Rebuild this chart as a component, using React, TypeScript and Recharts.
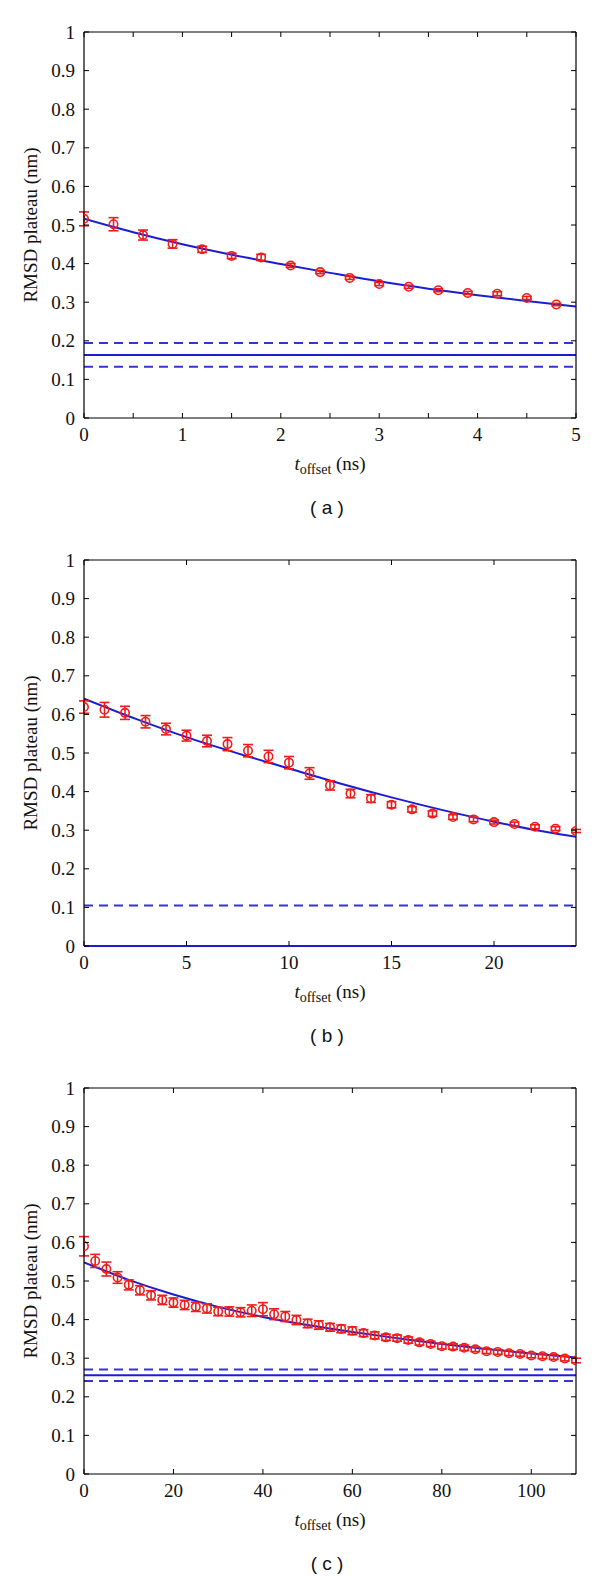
import React from 'react';
import { ComposedChart, Scatter, Line, XAxis, YAxis, ErrorBar, ReferenceLine } from 'recharts';

const RED = '#f01c1c';
const BLUE = '#1c1cd2';
const DASHBLUE = '#3434d4';
const SERIF = '"Liberation Serif", "Times New Roman", serif';
const SANS = '"Liberation Sans", Arial, sans-serif';

const yTicks = [0, 0.1, 0.2, 0.3, 0.4, 0.5, 0.6, 0.7, 0.8, 0.9, 1];

// Panel (a)
const xTicksA = [0, 0.5, 1, 1.5, 2, 2.5, 3, 3.5, 4, 4.5, 5];
const xA = [0, 0.3, 0.6, 0.9, 1.2, 1.5, 1.8, 2.1, 2.4, 2.7, 3.0, 3.3, 3.6, 3.9, 4.2, 4.5, 4.8];
const yA = [0.516, 0.502, 0.474, 0.451, 0.437, 0.42, 0.416, 0.395, 0.378, 0.363, 0.347, 0.34, 0.331, 0.324, 0.322, 0.311, 0.294];
const eA = [0.018, 0.017, 0.013, 0.011, 0.008, 0.007, 0.008, 0.005, 0.004, 0.004, 0.004, 0.004, 0.004, 0.004, 0.005, 0.004, 0.003];
const fitXA = [0, 0.5, 1, 1.5, 2, 2.5, 3, 3.5, 4, 4.5, 5];
const fitYA = [0.516, 0.481, 0.45, 0.423, 0.399, 0.376, 0.354, 0.335, 0.318, 0.303, 0.289];
const plateauA = [0.163];
const boundsA = [0.133, 0.194];

// Panel (b)
const xTicksB = [0, 5, 10, 15, 20];
const xB = [0, 1, 2, 3, 4, 5, 6, 7, 8, 9, 10, 11, 12, 13, 14, 15, 16, 17, 18, 19, 20, 21, 22, 23, 24];
const yB = [0.619, 0.612, 0.604, 0.581, 0.562, 0.545, 0.531, 0.523, 0.506, 0.491, 0.475, 0.447, 0.416, 0.395, 0.382, 0.366, 0.354, 0.343, 0.334, 0.328, 0.321, 0.316, 0.309, 0.304, 0.298];
const eB = [0.016, 0.019, 0.017, 0.016, 0.015, 0.014, 0.015, 0.017, 0.016, 0.016, 0.016, 0.015, 0.012, 0.011, 0.01, 0.008, 0.007, 0.007, 0.006, 0.006, 0.005, 0.005, 0.005, 0.005, 0.004];
const fitXB = [0, 2.5, 5, 7.5, 10, 12.5, 15, 17.5, 20, 22.5, 24];
const fitYB = [0.641, 0.589, 0.541, 0.499, 0.46, 0.421, 0.385, 0.352, 0.322, 0.296, 0.283];
const plateauB = [0.0];
const boundsB = [0.105];

// Panel (c)
const xTicksC = [0, 20, 40, 60, 80, 100];
const xC = [0, 2.5, 5, 7.5, 10, 12.5, 15, 17.5, 20, 22.5, 25, 27.5, 30, 32.5, 35, 37.5, 40, 42.5, 45, 47.5, 50, 52.5, 55, 57.5, 60, 62.5, 65, 67.5, 70, 72.5, 75, 77.5, 80, 82.5, 85, 87.5, 90, 92.5, 95, 97.5, 100, 102.5, 105, 107.5, 110];
const yC = [0.59, 0.552, 0.531, 0.509, 0.49, 0.476, 0.463, 0.451, 0.444, 0.438, 0.433, 0.429, 0.421, 0.421, 0.419, 0.423, 0.427, 0.414, 0.408, 0.399, 0.39, 0.386, 0.38, 0.376, 0.371, 0.365, 0.359, 0.354, 0.352, 0.347, 0.341, 0.337, 0.331, 0.33, 0.327, 0.323, 0.318, 0.316, 0.313, 0.311, 0.307, 0.305, 0.303, 0.299, 0.294];
const eC = [0.025, 0.017, 0.018, 0.015, 0.013, 0.012, 0.012, 0.012, 0.012, 0.012, 0.012, 0.012, 0.011, 0.012, 0.012, 0.015, 0.017, 0.014, 0.013, 0.012, 0.011, 0.011, 0.01, 0.01, 0.01, 0.009, 0.009, 0.008, 0.008, 0.008, 0.007, 0.007, 0.007, 0.007, 0.007, 0.006, 0.006, 0.006, 0.006, 0.006, 0.006, 0.006, 0.006, 0.006, 0.006];
const fitXC = [0, 10, 20, 30, 40, 50, 60, 70, 80, 90, 100, 110];
const fitYC = [0.548, 0.503, 0.465, 0.433, 0.407, 0.386, 0.368, 0.352, 0.337, 0.324, 0.312, 0.302];
const plateauC = [0.256];
const boundsC = [0.241, 0.271];

const W = 600;
const H = 528;
const TOP = 32;
const BOTTOM = 418;
const LEFT = 84;
const RIGHT = 576;

const fmtY = (v: number) => (v === 0 ? '0' : v === 1 ? '1' : v.toFixed(1));

const labelStyle = { fontFamily: SERIF, fontSize: 19, fill: '#111' };

const BottomTick = (showLabel: (v: number) => boolean) => (props: any) => {
  const { x, y, payload } = props;
  const v = payload.value;
  return (
    <g>
      <line x1={x} y1={y} x2={x} y2={y - 5} stroke="#000" strokeWidth={1} />
      {showLabel(v) && (
        <text x={x} y={y + 23} textAnchor="middle" fontFamily={SERIF} style={labelStyle}>
          {String(v)}
        </text>
      )}
    </g>
  );
};

const TopTick = (props: any) => {
  const { x, y } = props;
  return <line x1={x} y1={y} x2={x} y2={y + 5} stroke="#000" strokeWidth={1} />;
};

const LeftTick = (props: any) => {
  const { x, y, payload } = props;
  return (
    <g>
      <line x1={x} y1={y} x2={x + 5} y2={y} stroke="#000" strokeWidth={1} />
      <text x={x - 9} y={y + 6.5} textAnchor="end" fontFamily={SERIF} style={labelStyle}>
        {fmtY(payload.value)}
      </text>
    </g>
  );
};

const RightTick = (props: any) => {
  const { x, y } = props;
  return <line x1={x} y1={y} x2={x - 5} y2={y} stroke="#000" strokeWidth={1} />;
};

const OpenCircle = (props: any) => {
  const { cx, cy } = props;
  return <circle cx={cx} cy={cy} r={4.2} fill="none" stroke={RED} strokeWidth={1.6} />;
};

type PanelProps = {
  caption: string;
  domainMax: number;
  xTicks: number[];
  showLabel: (v: number) => boolean;
  xs: number[];
  ys: number[];
  es: number[];
  fitX: number[];
  fitY: number[];
  plateau: number[];
  bounds: number[];
};

function Panel(p: PanelProps) {
  const pts = p.xs.map((x, i) => ({ x, y: p.ys[i], err: p.es[i] }));
  const fit = p.fitX.map((x, i) => ({ x, y: p.fitY[i] }));
  const plateauOnAxis = p.plateau.some((v) => v === 0);
  return (
    <div style={{ position: 'relative', width: W, height: H }}>
      <ComposedChart
        width={W}
        height={H}
        margin={{ top: TOP - 1, right: W - RIGHT - 1, bottom: H - BOTTOM - 1, left: 0 }}
      >
        <XAxis
          xAxisId={0}
          type="number"
          dataKey="x"
          domain={[0, p.domainMax]}
          ticks={p.xTicks}
          interval={0}
          allowDataOverflow
          height={1}
          tickSize={0}
          tickMargin={0}
          tickLine={false}
          axisLine={{ stroke: plateauOnAxis ? BLUE : '#000', strokeWidth: plateauOnAxis ? 2 : 1.2 }}
          tick={BottomTick(p.showLabel)}
        />
        <XAxis
          xAxisId="top"
          orientation="top"
          type="number"
          dataKey="x"
          domain={[0, p.domainMax]}
          ticks={p.xTicks}
          interval={0}
          allowDataOverflow
          height={1}
          tickSize={0}
          tickMargin={0}
          tickLine={false}
          axisLine={{ stroke: '#000', strokeWidth: 1.2 }}
          tick={TopTick}
        />
        <YAxis
          yAxisId={0}
          type="number"
          domain={[0, 1]}
          ticks={yTicks}
          interval={0}
          allowDataOverflow
          width={LEFT}
          tickSize={0}
          tickMargin={0}
          tickLine={false}
          axisLine={{ stroke: '#000', strokeWidth: 1.2 }}
          tick={LeftTick}
        />
        <YAxis
          yAxisId="right"
          orientation="right"
          type="number"
          domain={[0, 1]}
          ticks={yTicks}
          interval={0}
          allowDataOverflow
          width={1}
          tickSize={0}
          tickMargin={0}
          tickLine={false}
          axisLine={{ stroke: '#000', strokeWidth: 1.2 }}
          tick={RightTick}
        />
        {p.bounds.map((b, i) => (
          <ReferenceLine
            key={'b' + i}
            y={b}
            stroke={DASHBLUE}
            strokeWidth={2}
            strokeDasharray="9 6"
          />
        ))}
        {p.plateau.map((v, i) => (
          <ReferenceLine key={'p' + i} y={v} stroke={BLUE} strokeWidth={2} />
        ))}
        <Line
          data={fit}
          dataKey="y"
          type="monotone"
          dot={false}
          stroke={BLUE}
          strokeWidth={2}
          isAnimationActive={false}
        />
        <Scatter data={pts} dataKey="y" shape={OpenCircle} isAnimationActive={false}>
          <ErrorBar dataKey="err" direction="y" width={5} stroke={RED} strokeWidth={1.6} />
        </Scatter>
      </ComposedChart>
      <div
        style={{
          position: 'absolute',
          left: 31,
          top: 225,
          transform: 'translate(-50%, -50%) rotate(-90deg)',
          whiteSpace: 'nowrap',
          fontFamily: SERIF,
          fontSize: 19,
          color: '#111',
        }}
      >
        RMSD plateau (nm)
      </div>
      <div
        style={{
          position: 'absolute',
          left: 330,
          top: 464,
          transform: 'translate(-50%, -50%)',
          whiteSpace: 'nowrap',
          fontFamily: SERIF,
          fontSize: 19,
          color: '#111',
        }}
      >
        <i>t</i>
        <span style={{ fontSize: 14, position: 'relative', top: 4 }}>offset</span> (ns)
      </div>
      <div
        style={{
          position: 'absolute',
          left: 327,
          top: 508,
          transform: 'translate(-50%, -50%)',
          whiteSpace: 'pre',
          fontFamily: SANS,
          fontSize: 19,
          color: '#111',
        }}
      >
        {p.caption}
      </div>
    </div>
  );
}

export default function App() {
  return (
    <div style={{ position: 'absolute', left: 0, top: 0, width: W, height: 3 * H, background: '#fff' }}>
      <Panel
        caption="( a )"
        domainMax={5}
        xTicks={xTicksA}
        showLabel={(v) => Number.isInteger(v)}
        xs={xA}
        ys={yA}
        es={eA}
        fitX={fitXA}
        fitY={fitYA}
        plateau={plateauA}
        bounds={boundsA}
      />
      <Panel
        caption="( b )"
        domainMax={24}
        xTicks={xTicksB}
        showLabel={() => true}
        xs={xB}
        ys={yB}
        es={eB}
        fitX={fitXB}
        fitY={fitYB}
        plateau={plateauB}
        bounds={boundsB}
      />
      <Panel
        caption="( c )"
        domainMax={110}
        xTicks={xTicksC}
        showLabel={() => true}
        xs={xC}
        ys={yC}
        es={eC}
        fitX={fitXC}
        fitY={fitYC}
        plateau={plateauC}
        bounds={boundsC}
      />
    </div>
  );
}
